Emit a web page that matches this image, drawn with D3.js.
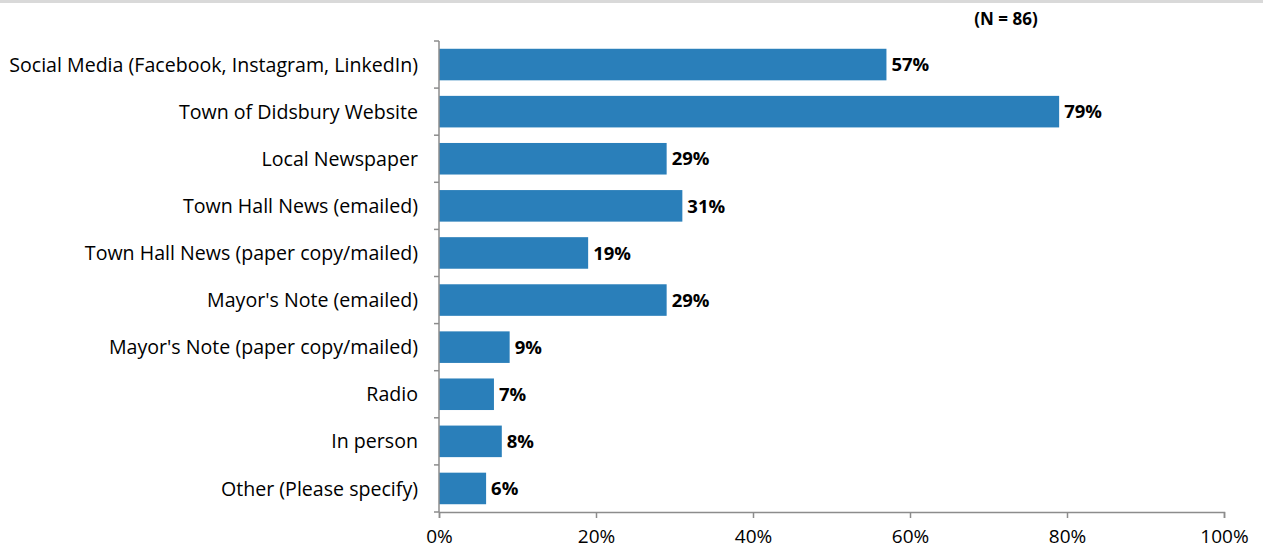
<!DOCTYPE html>
<html>
<head>
<meta charset="utf-8">
<script src="https://cdn.jsdelivr.net/npm/d3@7"></script>
<style>
  html, body { margin: 0; padding: 0; background: #fff; }
  svg { display: block; font-family: "Open Sans", "Noto Sans", sans-serif; }
</style>
</head>
<body>
<svg id="chart" width="1263" height="554"></svg>
<script>
// Information sources used (share of respondents)
const categories = [
  "Social Media (Facebook, Instagram, LinkedIn)",
  "Town of Didsbury Website",
  "Local Newspaper",
  "Town Hall News (emailed)",
  "Town Hall News (paper copy/mailed)",
  "Mayor's Note (emailed)",
  "Mayor's Note (paper copy/mailed)",
  "Radio",
  "In person",
  "Other (Please specify)"
];
const values = [57, 79, 29, 31, 19, 29, 9, 7, 8, 6];
const tickValues = [0, 20, 40, 60, 80, 100];
const sampleNote = "(N = 86)";

const svg = d3.select("#chart");
const margin = { left: 439, right: 39, top: 41, bottom: 42 };
const W = 1263, H = 554;

// thin grey band along the top edge
svg.append("rect").attr("x", 0).attr("y", 0).attr("width", W).attr("height", 3)
  .attr("fill", "#d9d9d9");

const x = d3.scaleLinear().domain([0, 100]).range([margin.left, W - margin.right]);
const y = d3.scaleBand().domain(categories)
  .range([margin.top, H - margin.bottom]).paddingInner(0.33).paddingOuter(0.165);

const axisColor = "#8c8c8c";

// bars
svg.append("g").selectAll("rect").data(categories).join("rect")
  .attr("x", x(0))
  .attr("y", d => y(d))
  .attr("width", (d, i) => x(values[i]) - x(0))
  .attr("height", y.bandwidth())
  .attr("fill", "#2a7fba");

// value labels
svg.append("g").selectAll("text").data(categories).join("text")
  .attr("x", (d, i) => x(values[i]) + 5)
  .attr("y", d => y(d) + y.bandwidth() / 2)
  .attr("dy", "0.36em")
  .attr("font-size", 18.5).attr("font-weight", "bold").attr("fill", "#000")
  .text((d, i) => values[i] + "%");

// category labels
svg.append("g").selectAll("text").data(categories).join("text")
  .attr("x", margin.left - 21)
  .attr("y", d => y(d) + y.bandwidth() / 2)
  .attr("dy", "0.36em")
  .attr("text-anchor", "end")
  .attr("font-size", 19.6).attr("fill", "#000")
  .text(d => d);

// vertical axis with ticks on category boundaries
const yTop = margin.top, yBot = H - margin.bottom;
const gy = svg.append("g").attr("stroke", axisColor).attr("stroke-width", 1.5);
gy.append("line").attr("x1", x(0)).attr("x2", x(0)).attr("y1", yTop).attr("y2", yBot);
gy.selectAll("line.tick").data(d3.range(categories.length + 1)).join("line")
  .attr("class", "tick")
  .attr("x1", x(0) - 5).attr("x2", x(0))
  .attr("y1", i => yTop + i * (yBot - yTop) / categories.length)
  .attr("y2", i => yTop + i * (yBot - yTop) / categories.length);

// horizontal axis
const gx = svg.append("g").attr("transform", `translate(0,${yBot})`)
  .call(d3.axisBottom(x).tickValues(tickValues).tickSize(6).tickPadding(12)
    .tickFormat(d => d + "%"));
gx.select(".domain").attr("stroke", axisColor).attr("stroke-width", 1.5);
gx.selectAll(".tick line").attr("stroke", axisColor).attr("stroke-width", 1.5);
gx.selectAll(".tick text").attr("font-size", 19)
  .attr("font-family", "'Open Sans', 'Noto Sans', sans-serif").attr("fill", "#000");

// sample size note
svg.append("text").attr("x", 1006).attr("y", 25)
  .attr("text-anchor", "middle").attr("font-size", 17).attr("font-weight", "bold")
  .attr("font-family", "'Liberation Sans Narrow', 'Open Sans', sans-serif")
  .text(sampleNote);
</script>
</body>
</html>
